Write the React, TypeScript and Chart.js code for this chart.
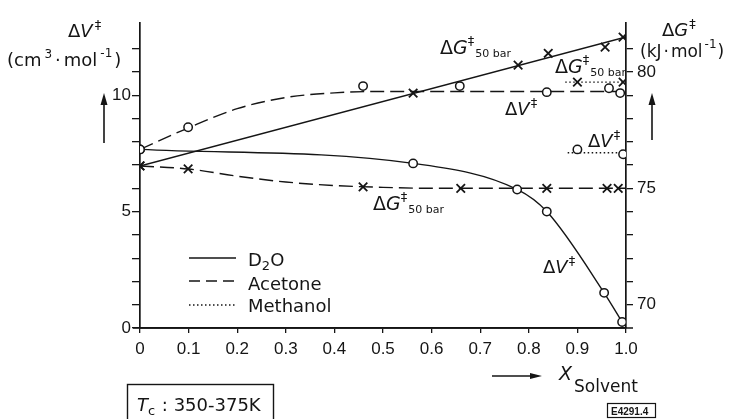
import React, { useEffect, useRef } from "react";
import { Chart, registerables } from "chart.js";

Chart.register(...registerables);

// ---------- data ----------
// D2O, ΔG‡50bar (right axis, kJ/mol) – measured points
const d2oGx = [0, 0.562, 0.778, 0.84, 0.957, 0.994];
const d2oGy = [75.96, 79.09, 80.29, 80.8, 81.06, 81.49];
// D2O, ΔG‡50bar – drawn straight fit line end points
const d2oGFitX = [0, 1.0];
const d2oGFitY = [75.96, 81.5];

// D2O, ΔV‡ (left axis, cm3/mol)
const d2oVx = [0, 0.562, 0.776, 0.837, 0.955, 0.992];
const d2oVy = [7.67, 7.07, 5.95, 5.0, 1.51, 0.26];

// Acetone, ΔV‡ – measured points
const aceVx = [0, 0.099, 0.459, 0.658, 0.837, 0.965, 0.988];
const aceVy = [7.67, 8.62, 10.39, 10.39, 10.13, 10.3, 10.09];
// Acetone, ΔV‡ – drawn curve
const aceVFitX = [0, 0.1, 0.2, 0.3, 0.4, 0.5, 1.0];
const aceVFitY = [7.67, 8.6, 9.42, 9.9, 10.1, 10.16, 10.16];

// Acetone, ΔG‡50bar – measured points
const aceGx = [0, 0.099, 0.459, 0.66, 0.837, 0.961, 0.984];
const aceGy = [75.96, 75.83, 75.06, 75.0, 75.0, 75.0, 75.0];
// Acetone, ΔG‡50bar – drawn curve
const aceGFitX = [0, 0.1, 0.2, 0.3, 0.4, 0.5, 0.6, 1.0];
const aceGFitY = [75.96, 75.83, 75.52, 75.27, 75.12, 75.04, 75.0, 75.0];

// Methanol, ΔG‡50bar
const meoGx = [0.9, 0.994];
const meoGy = [79.56, 79.56];
const meoGLineX = [0.875, 0.994];
const meoGLineY = [79.56, 79.56];

// Methanol, ΔV‡
const meoVx = [0.9, 0.994];
const meoVy = [7.67, 7.46];
const meoVLineX = [0.88, 0.994];
const meoVLineY = [7.53, 7.53];

// axes
const xMin = 0;
const xMax = 1.0;
const xStep = 0.1;
const vMin = 0;
const vMax = 13.1;
const vTickMax = 12;
const gMin = 69;
const gMax = 82.1;
const gTickMin = 70;
const gTickMax = 82;
const labelEvery = 5;

const pts = (xs: number[], ys: number[]) => xs.map((x, i) => ({ x, y: ys[i] }));

const TXT = "DejaVu Sans";
const TICKF = "Liberation Sans";
const INK = "#151515";

type Part = [string, string, number?, number?];

function rich(ctx: CanvasRenderingContext2D, x: number, y: number, parts: Part[]) {
  let cx = x;
  for (const [t, font, dy, gap] of parts) {
    ctx.font = font;
    ctx.fillText(t, cx, y + (dy || 0));
    cx += ctx.measureText(t).width + (gap || 0);
  }
}

function arrow(ctx: CanvasRenderingContext2D, x1: number, y1: number, x2: number, y2: number, len = 12, hw = 3.5) {
  const a = Math.atan2(y2 - y1, x2 - x1);
  const bx = x2 - len * Math.cos(a);
  const by = y2 - len * Math.sin(a);
  ctx.beginPath();
  ctx.moveTo(x1, y1);
  ctx.lineTo(bx, by);
  ctx.stroke();
  ctx.beginPath();
  ctx.moveTo(x2, y2);
  ctx.lineTo(bx + hw * Math.sin(a), by - hw * Math.cos(a));
  ctx.lineTo(bx - hw * Math.sin(a), by + hw * Math.cos(a));
  ctx.closePath();
  ctx.fill();
}

const f = (size: number, style = "") => `${style} ${size}px "${TXT}"`.trim();

const annotPlugin = {
  id: "annot",
  afterDraw(chart: any) {
    const ctx: CanvasRenderingContext2D = chart.ctx;
    const area = chart.chartArea;
    ctx.save();
    ctx.fillStyle = INK;
    ctx.strokeStyle = INK;
    ctx.textBaseline = "alphabetic";
    ctx.textAlign = "left";

    // small overshoot of the x axis line past both vertical axes
    ctx.lineWidth = 1.7;
    ctx.beginPath();
    ctx.moveTo(area.left - 7, area.bottom);
    ctx.lineTo(area.right + 7, area.bottom);
    ctx.stroke();

    // left axis title
    rich(ctx, 68, 37, [["Δ", f(18)], ["V", f(18, "italic"), 0, 2], ["‡", f(13), -8]]);
    rich(ctx, 7, 66, [
      ["(cm", f(18), 0, 3],
      ["3", f(12), -8, 3],
      ["·", f(18), 0, 3],
      ["mol", f(18), 0, 3],
      ["-1", f(12), -9, 2],
      [")", f(18)],
    ]);
    // right axis title
    rich(ctx, 662, 36, [["Δ", f(18)], ["G", f(18, "italic"), 0, 1], ["‡", f(13), -8]]);
    rich(ctx, 640, 57, [
      ["(kJ", f(17), 0, 2],
      ["·", f(17), 0, 2],
      ["mol", f(17), 0, 2],
      ["-1", f(12), -9, 1],
      [")", f(17)],
    ]);

    // axis arrows
    ctx.lineWidth = 1.6;
    arrow(ctx, 104, 143, 104, 93);
    arrow(ctx, 652, 140, 652, 93);
    arrow(ctx, 492, 376, 542, 376, 12, 3);

    // x axis title
    rich(ctx, 559, 380, [["X", f(19, "italic"), 0, 2], ["Solvent", f(17), 12]]);

    // curve labels
    const gLabel = (x: number, y: number) =>
      rich(ctx, x, y, [["Δ", f(19)], ["G", f(19, "italic"), 0, 0], ["‡", f(13), -9, 1], ["50 bar", f(11), 3]]);
    const vLabel = (x: number, y: number) =>
      rich(ctx, x, y, [["Δ", f(18)], ["V", f(18, "italic"), 0, 1], ["‡", f(13), -8]]);
    gLabel(440, 54);
    gLabel(555, 73);
    gLabel(373, 210);
    vLabel(505, 115);
    vLabel(588, 147);
    vLabel(543, 273);

    // legend
    ctx.lineWidth = 1.4;
    const leg = (y: number, dash: number[]) => {
      ctx.setLineDash(dash);
      ctx.beginPath();
      ctx.moveTo(189, y);
      ctx.lineTo(236, y);
      ctx.stroke();
      ctx.setLineDash([]);
    };
    leg(258, []);
    leg(281, [11, 6]);
    leg(305, [1.5, 2.5]);
    rich(ctx, 248, 266, [["D", f(18)], ["2", f(13), 4], ["O", f(18)]]);
    rich(ctx, 248, 290, [["Acetone", f(18)]]);
    rich(ctx, 248, 312, [["Methanol", f(18)]]);

    // Tc box
    ctx.lineWidth = 1.4;
    ctx.strokeRect(127.5, 384.5, 146, 40);
    rich(ctx, 137, 411, [["T", f(18, "italic"), 0, 0], ["c", f(13), 4, 1], [" : 350-375K", f(18)]]);

    // figure id box
    ctx.lineWidth = 1.2;
    ctx.strokeRect(607.5, 403.5, 48, 14);
    ctx.font = `bold 10px "${TICKF}"`;
    ctx.fillText("E4291.4", 611, 414.5);

    ctx.restore();
  },
};

export default function App() {
  const ref = useRef<HTMLCanvasElement | null>(null);

  useEffect(() => {
    const lineDs = (xs: number[], ys: number[], axis: string, dash: number[], mono = false) => ({
      type: "line" as const,
      data: pts(xs, ys),
      yAxisID: axis,
      borderColor: INK,
      borderWidth: 1.4,
      borderDash: dash,
      pointRadius: 0,
      fill: false,
      tension: 0,
      cubicInterpolationMode: mono ? ("monotone" as const) : ("default" as const),
      order: 2,
    });
    const markDs = (xs: number[], ys: number[], axis: string, style: string) => ({
      type: "line" as const,
      data: pts(xs, ys),
      yAxisID: axis,
      showLine: false,
      pointStyle: style,
      pointRadius: style === "circle" ? 4.2 : 6,
      pointBorderColor: INK,
      pointBackgroundColor: "#ffffff",
      pointBorderWidth: style === "circle" ? 1.5 : 1.8,
      order: 1,
    });

    const scaleCommon = {
      border: { display: true, color: INK, width: 1.7 },
    };
    const filterInt = (lo: number, hi: number) => (s: any) => {
      s.ticks = s.ticks.filter(
        (t: any) => Math.abs(t.value - Math.round(t.value)) < 1e-6 && t.value >= lo && t.value <= hi
      );
    };

    const chart = new Chart(ref.current as HTMLCanvasElement, {
      type: "line",
      data: {
        datasets: [
          markDs(meoVx, meoVy, "yL", "circle"),
          markDs(meoGx, meoGy, "yR", "crossRot"),
          markDs(d2oVx, d2oVy, "yL", "circle"),
          markDs(aceVx, aceVy, "yL", "circle"),
          markDs(d2oGx, d2oGy, "yR", "crossRot"),
          markDs(aceGx, aceGy, "yR", "crossRot"),
          lineDs(d2oGFitX, d2oGFitY, "yR", []),
          lineDs(d2oVx, d2oVy, "yL", [], true),
          lineDs(aceVFitX, aceVFitY, "yL", [14, 6], true),
          lineDs(aceGFitX, aceGFitY, "yR", [14, 6], true),
          lineDs(meoGLineX, meoGLineY, "yR", [1.5, 2.5]),
          lineDs(meoVLineX, meoVLineY, "yL", [1.5, 2.5]),
        ] as any,
      },
      options: {
        responsive: false,
        maintainAspectRatio: false,
        animation: false,
        devicePixelRatio: 1,
        layout: { padding: { top: 23, left: 0, right: 0, bottom: 0 } },
        plugins: { legend: { display: false }, tooltip: { enabled: false } },
        scales: {
          x: {
            ...scaleCommon,
            type: "linear",
            min: xMin,
            max: xMax,
            grid: { display: true, drawOnChartArea: false, drawTicks: true, tickLength: 5, color: INK, lineWidth: 1.3 },
            ticks: {
              stepSize: xStep,
              autoSkip: false,
              maxRotation: 0,
              padding: 6,
              color: INK,
              font: { family: TICKF, size: 17 },
              callback: (v: any) => (Math.abs(v) < 1e-9 ? "0" : (Math.round(v * 10) / 10).toFixed(1)),
            },
            afterFit: (s: any) => {
              s.height = 91;
            },
          },
          yL: {
            ...scaleCommon,
            type: "linear",
            position: "left",
            min: vMin,
            max: vMax,
            afterBuildTicks: filterInt(vMin, vTickMax),
            grid: { display: true, drawOnChartArea: false, drawTicks: true, tickLength: 8, color: INK, lineWidth: 1.3 },
            ticks: {
              stepSize: 1,
              autoSkip: false,
              padding: 1,
              color: INK,
              font: { family: TICKF, size: 17 },
              callback: (v: any) => (Math.round(v) % labelEvery === 0 ? String(Math.round(v)) : ""),
            },
            afterFit: (s: any) => {
              s.width = 140;
            },
          },
          yR: {
            ...scaleCommon,
            type: "linear",
            position: "right",
            min: gMin,
            max: gMax,
            afterBuildTicks: filterInt(gTickMin, gTickMax),
            grid: { display: true, drawOnChartArea: false, drawTicks: true, tickLength: 7, color: INK, lineWidth: 1.3 },
            ticks: {
              stepSize: 1,
              autoSkip: false,
              padding: 4,
              color: INK,
              font: { family: TICKF, size: 17 },
              callback: (v: any) => (Math.round(v) % labelEvery === 0 ? String(Math.round(v)) : ""),
            },
            afterFit: (s: any) => {
              s.width = 106;
            },
          },
        },
      } as any,
      plugins: [annotPlugin],
    });
    return () => chart.destroy();
  }, []);

  return (
    <div style={{ position: "absolute", left: 0, top: 0, width: 732, height: 419, background: "#fff" }}>
      <canvas ref={ref} width={732} height={419} style={{ display: "block", width: 732, height: 419 }} />
    </div>
  );
}
